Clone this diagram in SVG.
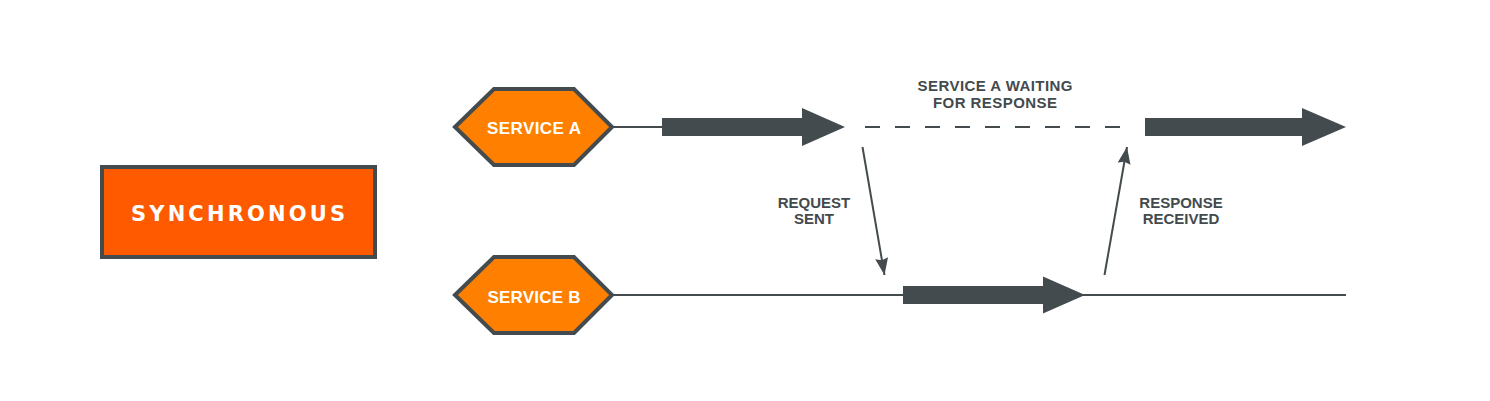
<svg xmlns="http://www.w3.org/2000/svg" width="1490" height="401" viewBox="0 0 1490 401">
  <style>
    .lbl { font-family: "Liberation Sans", Arial, sans-serif; font-weight: bold; fill: #434a4d; font-size: 15px; text-anchor: middle; }
    .nodetxt { font-family: "Liberation Sans", Arial, sans-serif; font-weight: bold; fill: #ffffff; text-anchor: middle; }
    .hex { fill: #ff8000; stroke: #434b4e; stroke-width: 4; stroke-linejoin: miter; }
    .thin { stroke: #434b4e; stroke-width: 2; fill: none; }
    .thick { fill: #434b4e; }
  </style>
  <defs>
    <marker id="head" markerUnits="userSpaceOnUse" markerWidth="18" markerHeight="14" refX="17" refY="6.5" orient="auto">
      <path d="M0,0 L17,6.5 L0,13 L2,6.5 z" fill="#434b4e"/>
    </marker>
  </defs>
  <rect width="1490" height="401" fill="#ffffff"/>

  <g id="synchronous">
    <rect x="102" y="167" width="273" height="90" fill="#ff5a00" stroke="#434b4e" stroke-width="4"/>
    <text x="238" y="220.5" font-family="'DejaVu Sans', Verdana, sans-serif" font-weight="bold" fill="#ffffff" text-anchor="middle" font-size="21" textLength="214">SYNCHRONOUS</text>
  </g>

  <g id="connectors">
    <line class="thin" x1="612" y1="127" x2="663" y2="127"/>
    <polygon class="thick" points="662,118 802,118 802,108 845,127 802,146 802,136 662,136"/>
    <line class="thin" x1="865" y1="127" x2="1120" y2="127" stroke-dasharray="15 15"/>
    <polygon class="thick" points="1145,118 1302,118 1302,108 1346,127 1302,146 1302,136 1145,136"/>
    <line class="thin" x1="612" y1="295" x2="1346" y2="295"/>
    <polygon class="thick" points="903,286 1043,286 1043,276.5 1085,295 1043,313.5 1043,304 903,304"/>
    <line class="thin" x1="862.5" y1="147" x2="884.5" y2="275" marker-end="url(#head)"/>
    <line class="thin" x1="1104.5" y1="275" x2="1127" y2="147" marker-end="url(#head)"/>
    <text class="lbl" x="995" y="91" textLength="155">SERVICE A WAITING</text>
    <text class="lbl" x="995" y="107.5" textLength="124">FOR RESPONSE</text>
    <text class="lbl" x="814" y="208">REQUEST</text>
    <text class="lbl" x="814" y="224">SENT</text>
    <text class="lbl" x="1181" y="208">RESPONSE</text>
    <text class="lbl" x="1181" y="224">RECEIVED</text>
  </g>

  <g id="service-a">
    <polygon class="hex" points="455,127 494,89 574,89 612,127 574,165 494,165"/>
    <text class="nodetxt" x="534" y="134" font-size="17" textLength="94">SERVICE A</text>
  </g>

  <g id="service-b">
    <polygon class="hex" points="455,295 494,257 574,257 612,295 574,333 494,333"/>
    <text class="nodetxt" x="534" y="302.5" font-size="17" textLength="93">SERVICE B</text>
  </g>
</svg>
